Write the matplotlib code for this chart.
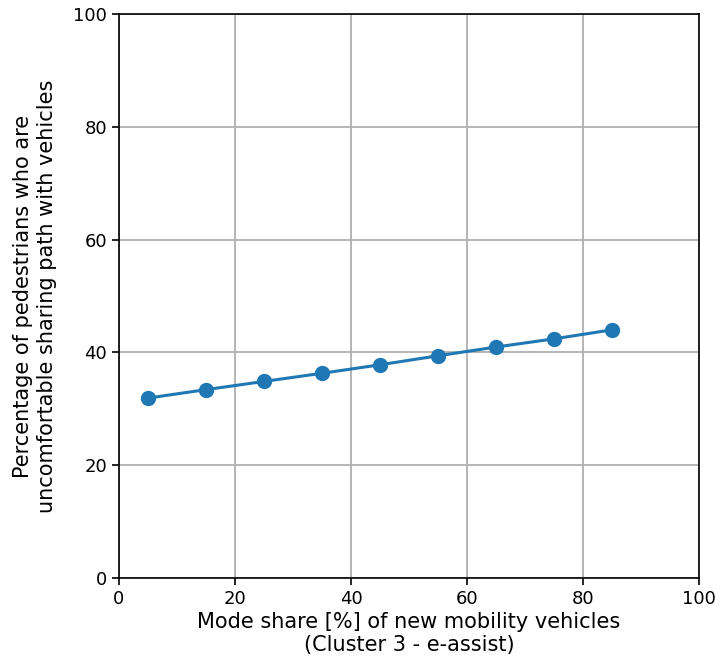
import matplotlib
matplotlib.use("Agg")
import matplotlib.pyplot as plt

# parts de mode et pourcentage de piétons mal à l'aise
mode_share = [5, 15, 25, 35, 45, 55, 65, 75, 85]
pct_uncomfortable = [31.9, 33.4, 34.85, 36.3, 37.8, 39.4, 40.95, 42.4, 44.0]

fig = plt.figure(figsize=(7.21, 6.65), dpi=100)
ax = fig.add_axes([0.165, 0.1308, 0.8045, 0.8482])

ax.plot(mode_share, pct_uncomfortable, color="#1f77b4", linewidth=2.2, marker="o", markersize=10)

ax.set_xlim(0, 100)
ax.set_ylim(0, 100)
ax.grid(True, color="#b0b0b0", linewidth=1.3)
ax.tick_params(labelsize=13, width=1.2, length=5)
for s in ax.spines.values():
    s.set_linewidth(1.2)

ax.set_xlabel("Mode share [%] of new mobility vehicles\n(Cluster 3 - e-assist)", fontsize=15, labelpad=3)
ax.set_ylabel("Percentage of pedestrians who are\nuncomfortable sharing path with vehicles", fontsize=15, labelpad=12)

plt.savefig("out.png", dpi=100)
